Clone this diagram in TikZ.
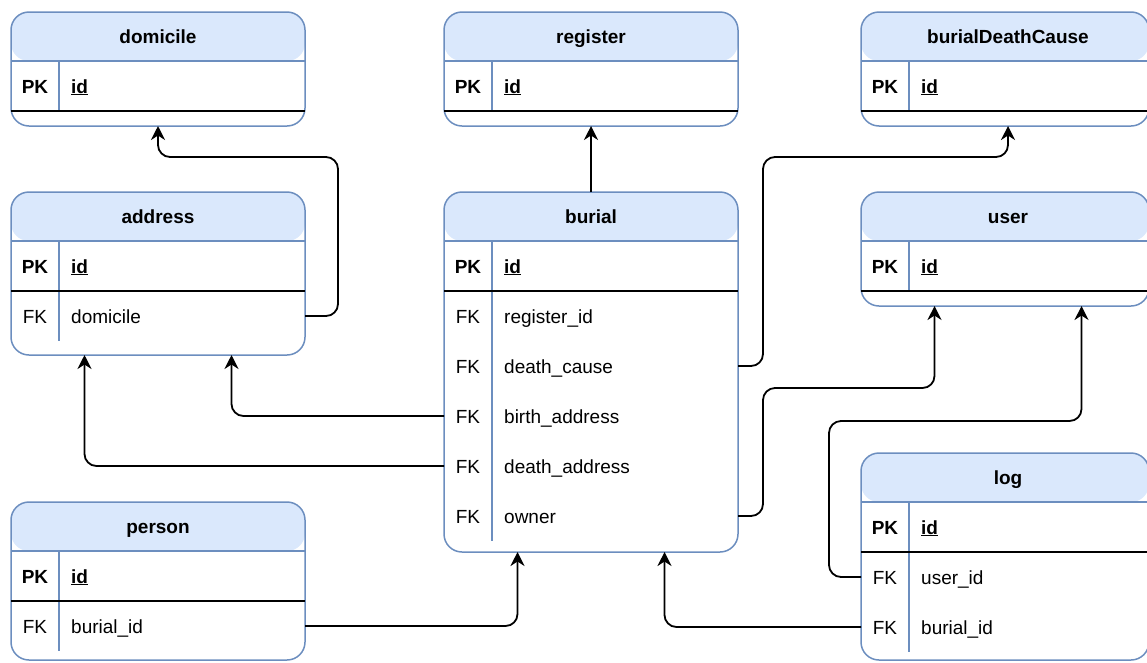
\documentclass[tikz,border=0pt]{standalone}
\usepackage{fontspec}
\setmainfont{Liberation Sans}
\usetikzlibrary{arrows.meta,calc}

\definecolor{hdrfill}{HTML}{DAE8FC}
\definecolor{hdrline}{HTML}{6C8EBF}

\newcommand\erfont{\fontsize{19}{23}\selectfont}

\tikzset{
  tbl/.style={draw=hdrline, line width=1.5pt, rounded corners=18pt, fill=white,
    anchor=north west, outer sep=0pt, inner sep=0pt,
    path picture={\fill[hdrfill] (path picture bounding box.north west)
      rectangle ([yshift=-49pt]path picture bounding box.north east);}},
  ttl/.style={font=\erfont\bfseries, inner sep=0pt, text height=14pt, text depth=0pt},
  keytxt/.style={font=\erfont, inner sep=0pt, text height=14pt, text depth=0pt},
  fldtxt/.style={font=\erfont, anchor=west, inner sep=0pt, text height=14pt, text depth=0pt},
  sep/.style={draw=hdrline, line width=1.5pt},
  pkline/.style={draw=black, line width=1.6pt},
  fk/.style={draw=black, line width=1.8pt, -{Stealth[length=14pt,width=14pt,inset=4.5pt]}},
  roundbend/.style={rounded corners=12pt},
}

% table frame: [width] name, x, y, height, title
\newcommand\ertable[6][294]{%
  \node[tbl, minimum width=#1pt, minimum height=#5pt] (#2) at (#3,#4) {};
  \node[ttl] (#2-title) at ([xshift=147pt,yshift=-24.5pt]#2.north west) {#6};
  \draw[sep] ([yshift=-49pt]#2.north west) -- ([yshift=-49pt]#2.north east);
}
% one row: table, index (1 = primary key), key, field
\newcommand\errow[4]{%
  \coordinate (#1-r#2-w) at ([yshift={-(24+50*#2)*1pt}]#1.north west);
  \coordinate (#1-r#2-e) at ([yshift={-(24+50*#2)*1pt}]#1.north east);
  \node[keytxt] (#1-k#2) at ([xshift=24pt]#1-r#2-w) {#3};
  \node[fldtxt] (#1-f#2) at ([xshift=60pt]#1-r#2-w) {#4};
}
% key column divider and primary key rule: table, number of rows
\newcommand\erfinish[2]{%
  \draw[sep] ([xshift=48pt,yshift=-49pt]#1.north west)
    -- ([xshift=48pt,yshift={-(49+50*#2)*1pt}]#1.north west);
  \draw[pkline] ([yshift=-99pt]#1.north west) -- ([yshift=-99pt]#1.north east);
}
\newcommand\pkrow[1]{\errow{#1}{1}{\bfseries PK}{\bfseries\underline{id}}}

\begin{document}
\begin{tikzpicture}[x=1pt,y=-1pt]
\useasboundingbox (0,0) rectangle (1147,662);

% domicile
\ertable{domicile}{11}{12}{114}{domicile}
\pkrow{domicile}
\erfinish{domicile}{1}

% register
\ertable{register}{444}{12}{114}{register}
\pkrow{register}
\erfinish{register}{1}

% burialDeathCause
\ertable[288]{bdc}{861}{12}{114}{burialDeathCause}
\pkrow{bdc}
\erfinish{bdc}{1}

% address
\ertable{address}{11}{192}{163}{address}
\pkrow{address}
\errow{address}{2}{FK}{domicile}
\erfinish{address}{2}

% burial
\ertable{burial}{444}{192}{360}{burial}
\pkrow{burial}
\errow{burial}{2}{FK}{register\_id}
\errow{burial}{3}{FK}{death\_cause}
\errow{burial}{4}{FK}{birth\_address}
\errow{burial}{5}{FK}{death\_address}
\errow{burial}{6}{FK}{owner}
\erfinish{burial}{6}

% user
\ertable[288]{user}{861}{192}{114}{user}
\pkrow{user}
\erfinish{user}{1}

% person
\ertable{person}{11}{502}{158}{person}
\pkrow{person}
\errow{person}{2}{FK}{burial\_id}
\erfinish{person}{2}

% log
\ertable[288]{log}{861}{453}{207}{log}
\pkrow{log}
\errow{log}{2}{FK}{user\_id}
\errow{log}{3}{FK}{burial\_id}
\erfinish{log}{3}

% foreign key references (corners rounded mid-path so the tips stay sharp)
\draw[fk] (address-r2-e) [roundbend] -| (338,157) -| ([xshift=147pt]domicile.south west);
\draw[fk] (burial.north) -- (register.south);
\draw[fk] (burial-r3-e) [roundbend] -| (763,157) -| ([xshift=147pt]bdc.south west);
\draw[fk] (burial-r4-w) [roundbend] -| ([xshift=220.5pt]address.south west);
\draw[fk] (burial-r5-w) [roundbend] -| ([xshift=73.5pt]address.south west);
\draw[fk] (burial-r6-e) [roundbend] -| (763,388) -| ([xshift=73.5pt]user.south west);
\draw[fk] (log-r2-w) [roundbend] -| (829,421) -| ([xshift=220.5pt]user.south west);
\draw[fk] (log-r3-w) [roundbend] -| ([xshift=220.5pt]burial.south west);
\draw[fk] (person-r2-e) [roundbend] -| ([xshift=73.5pt]burial.south west);
\end{tikzpicture}
\end{document}
